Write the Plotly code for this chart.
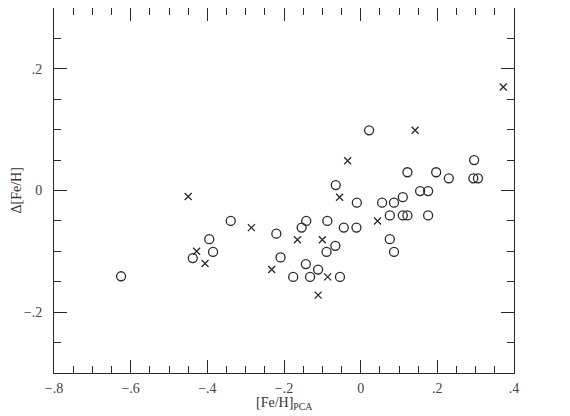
import plotly.graph_objects as go

# Open circles
circle_x = [-0.625, -0.438, -0.395, -0.385, -0.339, -0.220, -0.209, -0.176, -0.154, -0.142,
            -0.143, -0.132, -0.111, -0.089, -0.087, -0.066, -0.065, -0.054, -0.044, -0.010,
            -0.011, 0.022, 0.056, 0.076, 0.076, 0.087, 0.087, 0.110, 0.110, 0.122,
            0.122, 0.155, 0.176, 0.176, 0.197, 0.230, 0.296, 0.294, 0.306]
circle_y = [-0.141, -0.111, -0.080, -0.101, -0.050, -0.071, -0.110, -0.142, -0.061, -0.050,
            -0.121, -0.142, -0.130, -0.101, -0.050, -0.091, 0.009, -0.142, -0.061, -0.020,
            -0.061, 0.099, -0.020, -0.041, -0.080, -0.020, -0.101, -0.011, -0.041, -0.041,
            0.030, -0.001, -0.001, -0.041, 0.030, 0.020, 0.050, 0.020, 0.020]

# Crosses
cross_x = [-0.450, -0.428, -0.406, -0.285, -0.232, -0.165, -0.111, -0.100, -0.086, -0.055,
           -0.034, 0.044, 0.142, 0.372]
cross_y = [-0.010, -0.100, -0.120, -0.061, -0.130, -0.081, -0.172, -0.081, -0.142, -0.011,
           0.049, -0.050, 0.099, 0.170]

x_tickvals = [-0.8, -0.6, -0.4, -0.2, 0, 0.2, 0.4]
x_ticktext = ["\u2212.8", "\u2212.6", "\u2212.4", "\u2212.2", "0", ".2", ".4"]
y_tickvals = [-0.2, 0, 0.2]
y_ticktext = ["\u2212.2", "0", ".2"]
x_title = "[Fe/H]<sub>PCA</sub>"
y_title = "\u0394[Fe/H]"

ink = "#2a2a2a"
font_fam = "Liberation Serif, DejaVu Serif, serif"

fig = go.Figure()
fig.add_trace(go.Scatter(
    x=circle_x, y=circle_y, mode="markers",
    marker=dict(symbol="circle-open", size=9, color=ink, line=dict(width=1.3, color=ink)),
    showlegend=False, hoverinfo="skip"))
fig.add_trace(go.Scatter(
    x=cross_x, y=cross_y, mode="markers",
    marker=dict(symbol="x-thin-open", size=7, color=ink, line=dict(width=1.3, color=ink)),
    showlegend=False, hoverinfo="skip"))

axis_common = dict(
    showgrid=False, zeroline=False, showline=True, linecolor=ink, linewidth=1,
    mirror="ticks", ticks="inside", ticklen=13, tickwidth=1, tickcolor=ink,
    tickfont=dict(family=font_fam, size=14, color="#444"), automargin=False,
)

fig.update_xaxes(
    range=[-0.8, 0.4], tickmode="array", tickvals=x_tickvals, ticktext=x_ticktext,
    minor=dict(ticks="inside", ticklen=7, dtick=0.05, tick0=0, tickcolor=ink, tickwidth=1, showgrid=False),
    ticklabelstandoff=2,
    **axis_common)
fig.update_yaxes(
    range=[-0.3, 0.3], tickmode="array", tickvals=y_tickvals, ticktext=y_ticktext,
    minor=dict(ticks="inside", ticklen=7, dtick=0.05, tick0=0, tickcolor=ink, tickwidth=1, showgrid=False),
    ticklabelstandoff=8,
    **axis_common)

fig.add_annotation(text=x_title, xref="paper", yref="paper", x=0.5, y=0, yshift=-20,
                   xanchor="center", yanchor="top", showarrow=False,
                   font=dict(family=font_fam, size=14, color="#333"))
fig.add_annotation(text=y_title, xref="paper", yref="paper", x=0, y=0.5, xshift=-38,
                   xanchor="center", yanchor="middle", showarrow=False, textangle=-90,
                   font=dict(family=font_fam, size=14, color="#333"))

# page body has an 8px default margin, so the figure is sized to fit the window
fig.update_layout(
    width=562, height=408,
    margin=dict(l=46, r=56, t=0, b=43, pad=0),
    paper_bgcolor="white", plot_bgcolor="white",
)

fig.write_html("out.html")
